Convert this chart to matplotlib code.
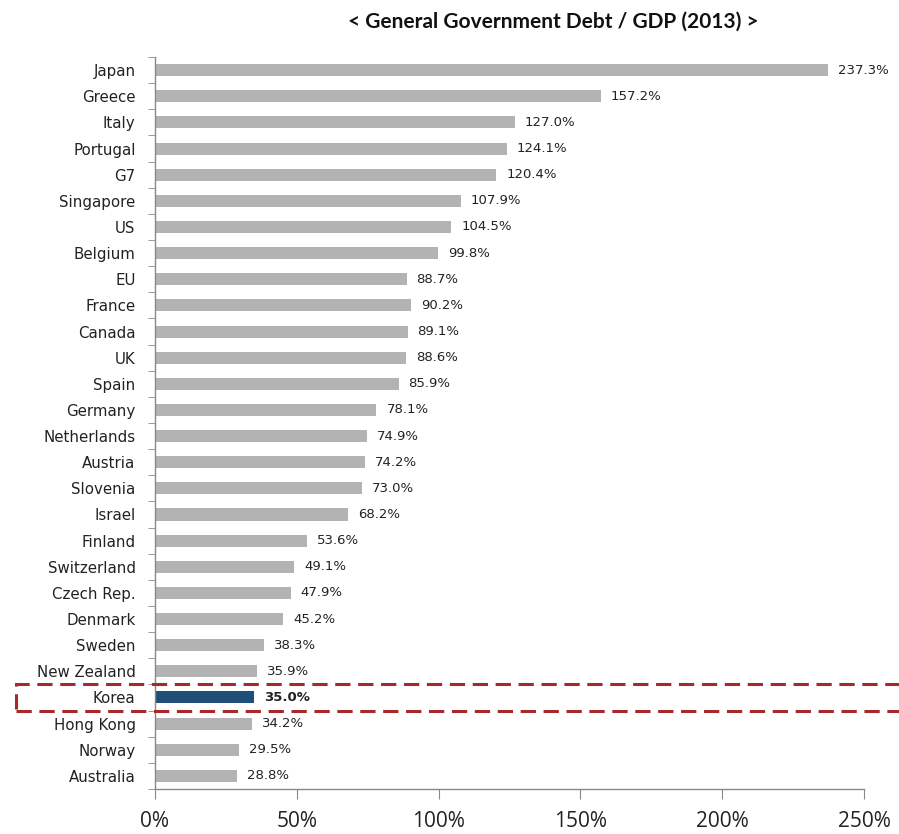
import matplotlib
matplotlib.use("Agg")
import matplotlib.pyplot as plt
from matplotlib.patches import Rectangle
from matplotlib.transforms import blended_transform_factory
import numpy as np

countries = ["Japan", "Greece", "Italy", "Portugal", "G7", "Singapore", "US",
             "Belgium", "EU", "France", "Canada", "UK", "Spain", "Germany",
             "Netherlands", "Austria", "Slovenia", "Israel", "Finland",
             "Switzerland", "Czech Rep.", "Denmark", "Sweden", "New Zealand",
             "Korea", "Hong Kong", "Norway", "Australia"]
debt_pct = [237.3, 157.2, 127.0, 124.1, 120.4, 107.9, 104.5, 99.8, 88.7, 90.2,
            89.1, 88.6, 85.9, 78.1, 74.9, 74.2, 73.0, 68.2, 53.6, 49.1, 47.9,
            45.2, 38.3, 35.9, 35.0, 34.2, 29.5, 28.8]
x_ticks = [0, 50, 100, 150, 200, 250]
highlight = "Korea"

plt.rcParams["font.family"] = ["DejaVu Sans"]

fig = plt.figure(figsize=(8.99, 8.34), dpi=100)
ax = fig.add_axes([0.1724, 0.054, 0.7886, 0.8776])

pos = np.arange(len(countries))
colors = ["#1f4e79" if c == highlight else "#b3b3b3" for c in countries]
ax.barh(pos, debt_pct, height=0.46, color=colors, zorder=2)

for p, v, c in zip(pos, debt_pct, countries):
    ax.text(v + 3.5, p, f"{v:.1f}%", va="center", ha="left", fontsize=9.5,
            color="#222222", fontweight="bold" if c == highlight else "normal")

ax.set_ylim(len(countries) - 0.5, -0.5)
ax.set_xlim(0, 250)
ax.set_yticks(pos)
ax.set_yticklabels(countries, fontsize=10.8, color="#222222")
ax.set_yticks(np.arange(len(countries) + 1) - 0.5, minor=True)
ax.tick_params(axis="y", which="major", length=0, pad=14)
ax.tick_params(axis="y", which="minor", length=5, color="#888888", direction="out")
ax.set_xticks(x_ticks)
ax.set_xticklabels([f"{t}%" for t in x_ticks], fontsize=15, color="#222222",
                   family="Open Sans")
ax.tick_params(axis="x", length=7, color="#888888", pad=9)

for s in ["top", "right"]:
    ax.spines[s].set_visible(False)
for s in ["left", "bottom"]:
    ax.spines[s].set_color("#888888")
    ax.spines[s].set_linewidth(1.0)

# dashed frame around the highlighted row
k = countries.index(highlight)
trans = blended_transform_factory(fig.transFigure, ax.transData)
box = Rectangle((16 / 899, k + 0.52), 1.02, -1.04, transform=trans,
                fill=False, edgecolor="#a8292d", linewidth=2.2,
                linestyle=(0, (5, 2.5)), clip_on=False, zorder=5)
fig.add_artist(box)

fig.text(0.615, 0.974, "< General Government Debt / GDP (2013) >",
         ha="center", va="center", fontsize=15, fontweight="bold",
         color="#111111", family="Lato")

fig.savefig("out.png", dpi=100)
